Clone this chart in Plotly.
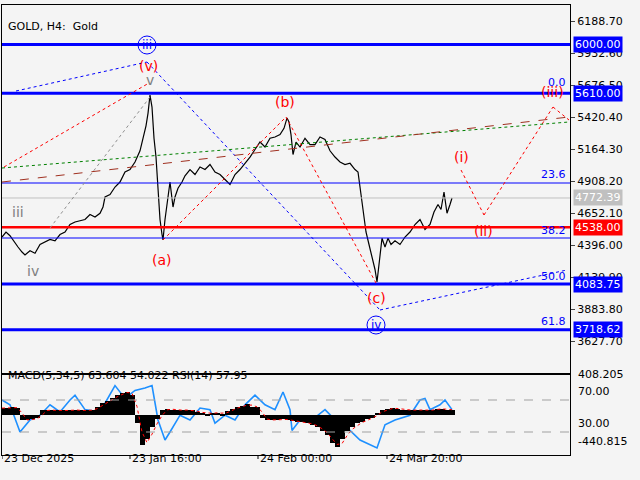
import plotly.graph_objects as go

# ---- data (x in bar-position units, price) ----
px_x = [2,6,10,14,18,22,25,30,35,40,45,50,55,60,65,70,75,80,85,90,95,100,103,105,110,115,120,125,130,135,140,143,146,148,150,152,154,156,158,160,162,163,165,168,170,173,175,178,182,185,190,195,200,205,210,215,220,225,230,235,240,245,250,255,260,265,270,275,280,284,287,289,291,293,296,300,305,310,315,320,325,330,335,340,345,350,355,358,360,363,366,369,372,375,377,379,382,385,388,391,395,400,405,410,415,420,425,430,434,438,441,444,447,450,452]
price = [4460,4500,4470,4420,4380,4340,4316,4350,4330,4400,4420,4440,4430,4480,4500,4560,4580,4590,4600,4640,4620,4650,4700,4780,4800,4860,4900,4980,5000,5060,5150,5250,5350,5450,5596,5500,5250,5100,4800,4600,4480,4436,4600,4800,4900,4700,4780,4850,4900,4950,5000,4960,5020,5000,5040,4980,4960,4920,4880,4960,5000,5050,5100,5160,5220,5180,5250,5260,5280,5330,5412,5380,5280,5120,5220,5180,5250,5200,5200,5260,5240,5150,5100,5060,5040,5050,5000,4980,4850,4650,4500,4400,4300,4200,4100,4250,4450,4380,4450,4400,4430,4400,4460,4500,4560,4600,4520,4560,4660,4720,4680,4820,4650,4720,4772]

rsi_x = [2,10,20,30,40,50,60,70,75,85,100,110,115,125,135,145,152,158,165,170,180,190,200,210,215,225,235,245,255,265,275,283,290,292,300,315,325,340,350,360,370,377,385,395,410,420,425,430,440,445,452]
rsi = [70,64,30,45,51,64,55,70,76,58,55,76,88,72,82,85,88,45,20,30,51,45,60,58,41,51,45,64,76,64,58,80,58,32,45,48,58,39,32,20,14,10,39,45,51,70,72,58,64,70,58]

macd_x = list(range(2,453,5))
macd = [90,90,100,90,-60,-60,-50,-40,60,60,70,60,60,60,70,60,60,60,70,100,150,180,220,250,280,300,250,-100,-380,-300,-150,-50,60,80,70,60,70,60,60,40,30,20,30,30,20,50,80,100,120,140,110,100,-40,-60,-60,-60,-50,-60,-70,-80,-90,-100,-120,-150,-200,-250,-350,-400,-300,-200,-150,-100,-80,-50,-30,30,60,80,90,80,70,60,70,60,70,60,70,80,80,70,70]

x_ticks = [2,130,258,387]
x_tick_text = ["23 Dec 2025","23 Jan 16:00","24 Feb 00:00","24 Mar 20:00"]
price_ticks = [6188.70,5932.60,5676.50,5420.40,5164.30,4908.20,4652.10,4396.00,4139.90,3883.80,3627.70]

def P(ypx):
    return 6188.7 - (ypx - 21) * 8.003

W, H = 640, 480
x0, x1 = 2, 570
fig = go.Figure()
fig.add_trace(go.Scatter(x=px_x, y=price, mode="lines", line=dict(color="black", width=1.2),
                         xaxis="x", yaxis="y", showlegend=False))
fig.add_trace(go.Bar(x=macd_x, y=macd, marker=dict(color="black", line=dict(width=0)), width=5,
                     xaxis="x2", yaxis="y3", showlegend=False))
sig = [macd[0]] + [0.6*macd[i-1]+0.4*macd[i] for i in range(1, len(macd))]
fig.add_trace(go.Scatter(x=macd_x, y=sig, mode="lines", line=dict(color="red", width=1, dash="dot"),
                         xaxis="x2", yaxis="y3", showlegend=False))
fig.add_trace(go.Scatter(x=rsi_x, y=rsi, mode="lines", line=dict(color="#1e90ff", width=1.6),
                         xaxis="x2", yaxis="y2", showlegend=False))

shapes = []
def hl(p, color, w, xref="x", yref="y"):
    shapes.append(dict(type="line", xref=xref, yref=yref, x0=x0, x1=x1, y0=p, y1=p,
                       line=dict(color=color, width=w)))
hl(6000, "#0000ff", 3); hl(5610, "#0000ff", 3); hl(P(183), "#0000ff", 1)
hl(4772.39, "#c0c0c0", 1); hl(4538, "#ff0000", 2.5); hl(P(238), "#0000ff", 1)
hl(4083.75, "#0000ff", 3); hl(3718.62, "#0000ff", 3)
for v in [70, 30]:
    shapes.append(dict(type="line", xref="x2", yref="y2", x0=x0, x1=x1, y0=v, y1=v,
                       line=dict(color="#a0a0a0", width=1, dash="dash")))

def seg(pts, color, dash="dot"):
    for (a, b), (c, d) in zip(pts[:-1], pts[1:]):
        shapes.append(dict(type="line", xref="x", yref="y", x0=a, y0=P(b), x1=c, y1=P(d),
                           line=dict(color=color, width=1, dash=dash)))
seg([(16,91),(147,62),(380,310),(567,270)], "#0000ff")
seg([(4,167),(149,83)], "#ff0000")
seg([(163,240),(286,117),(376,283)], "#ff0000")
seg([(461,170),(484,215),(553,107),(569,120)], "#ff0000")
seg([(50,228),(150,97)], "#909090")
seg([(2,168),(569,122)], "#008000")
seg([(2,182),(569,117)], "#a03020", "dash")

ann = []
def T(x, y, t, c, s=14, xa="center"):
    ann.append(dict(x=x, y=P(y), xref="x", yref="y", text=t, showarrow=False,
                    font=dict(color=c, size=s, family="DejaVu Sans"), xanchor=xa))
T(18,212,"iii","#808080"); T(33,271,"iv","#808080"); T(150,80,"v","#808080")
T(148,66,"(v)","#ff0000"); T(147,45,"iii","#0000ff", 12)
T(162,260,"(a)","#ff0000"); T(285,102,"(b)","#ff0000"); T(376,298,"(c)","#ff0000")
T(376,325,"iv","#0000ff", 12); T(461,157,"(i)","#ff0000"); T(483,231,"(ii)","#ff0000"); T(552,92,"(iii)","#ff0000")
for (cx, cy) in [(147,45),(376,325)]:
    shapes.append(dict(type="circle", xref="x", yref="y", x0=cx-9, x1=cx+9, y0=P(cy+9), y1=P(cy-9),
                       line=dict(color="#0000ff", width=1)))
for y, t in [(83,"0.0"),(175,"23.6"),(231,"38.2"),(276,"50.0"),(321,"61.8")]:
    ann.append(dict(x=568, y=P(y), xref="x", yref="y", text=t, showarrow=False, xanchor="right",
                    font=dict(color="#0000ff", size=11, family="DejaVu Sans")))
ann.append(dict(x=6/W, y=1-18/H, xref="paper", yref="paper", text="GOLD, H4:  Gold", showarrow=False,
                xanchor="left", font=dict(size=11, color="black", family="DejaVu Sans")))
ann.append(dict(x=6/W, y=1-384/H, xref="paper", yref="paper", text="MACD(5,34,5) 63.604 54.022 RSI(14) 57.95",
                showarrow=False, xanchor="left", font=dict(size=11, color="black", family="DejaVu Sans")))
for p, t, bg in [(6000,"6000.00","#0000ff"),(5610,"5610.00","#0000ff"),(4772.39,"4772.39","#c0c0c0"),
                 (4538,"4538.00","#ff0000"),(4083.75,"4083.75","#0000ff"),(3718.62,"3718.62","#0000ff")]:
    ann.append(dict(x=573/W, y=p, xref="paper", yref="y", text=t, showarrow=False, xanchor="left",
                    bgcolor=bg, borderpad=1, font=dict(size=11, color="white", family="DejaVu Sans")))
for yy, t in [(383,"408.205"),(400,"70.00"),(432,"30.00"),(450,"-440.815")]:
    ann.append(dict(x=576/W, y=1-yy/H, xref="paper", yref="paper", text=t, showarrow=False, xanchor="left",
                    font=dict(size=11, color="black", family="DejaVu Sans")))
for xv, t in zip(x_ticks, x_tick_text):
    ann.append(dict(x=xv, y=1-467/H, xref="x2", yref="paper", text=t, showarrow=False, xanchor="left",
                    font=dict(size=11, color="black", family="DejaVu Sans")))
    shapes.append(dict(type="line", xref="x2", yref="paper", x0=xv, x1=xv, y0=1-455/H, y1=1-459/H,
                       line=dict(color="black", width=1)))

fig.update_layout(
    width=W, height=H, margin=dict(l=0, r=0, t=0, b=0),
    paper_bgcolor="#f4f4f4", plot_bgcolor="#f4f4f4", shapes=shapes, annotations=ann, bargap=0,
    xaxis=dict(domain=[x0/W, x1/W], range=[x0, x1], showticklabels=False, showgrid=False, zeroline=False,
               showline=True, mirror=True, linecolor="black", ticks=""),
    yaxis=dict(domain=[1-373/H, 1-5/H], range=[P(373), P(5)], side="right", tickvals=price_ticks,
               ticktext=[f"{v:.2f}" for v in price_ticks], ticks="outside", ticklen=4, showgrid=False,
               zeroline=False, showline=True, mirror=True, linecolor="black",
               tickfont=dict(size=11, family="DejaVu Sans", color="black")),
    xaxis2=dict(domain=[x0/W, x1/W], range=[x0, x1], anchor="y2", showticklabels=False, showgrid=False,
                zeroline=False, showline=True, mirror=True, linecolor="black"),
    yaxis2=dict(domain=[1-455/H, 1-375/H], range=[70-55/0.8, 70+25/0.8], showticklabels=False, showgrid=False,
                zeroline=False, showline=True, mirror=True, linecolor="black"),
    yaxis3=dict(overlaying="y2", range=[-440.815-5*12.67, 408.205+8*12.67], visible=False),
)
fig.data[1].update(xaxis="x2", yaxis="y3")
fig.write_html("out.html", config={"displayModeBar": False},
               post_script="document.body.style.margin='0';document.body.style.background='#f4f4f4';")
